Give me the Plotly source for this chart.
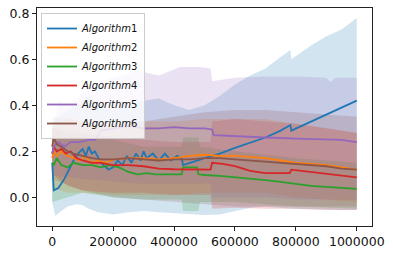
import plotly.graph_objects as go

# ---------------- data (x in thousands of steps) ----------------
names = ["Algorithm1", "Algorithm2", "Algorithm3", "Algorithm4", "Algorithm5", "Algorithm6"]
colors = ["#1f77b4", "#ff7f0e", "#2ca02c", "#d62728", "#9467bd", "#8c564b"]
fills = ["rgba(31,119,180,0.2)", "rgba(255,127,14,0.2)", "rgba(44,160,44,0.2)",
         "rgba(214,39,40,0.2)", "rgba(148,103,189,0.2)", "rgba(140,86,75,0.2)"]

# Algorithm1
a1_x = [0, 5, 20, 40, 55, 70, 85, 100, 110, 120, 130, 140, 160, 185, 200, 215, 230, 245, 260, 275,
        290, 300, 310, 330, 350, 370, 390, 410, 425, 430, 500, 550, 600, 650, 700, 750, 782, 785,
        850, 900, 950, 1000]
a1_y = [0.15, 0.03, 0.04, 0.08, 0.12, 0.16, 0.19, 0.21, 0.18, 0.22, 0.19, 0.20, 0.15, 0.12, 0.13,
        0.16, 0.14, 0.18, 0.15, 0.19, 0.16, 0.20, 0.17, 0.19, 0.16, 0.19, 0.16, 0.18, 0.17, 0.14,
        0.17, 0.19, 0.215, 0.237, 0.26, 0.29, 0.314, 0.29, 0.33, 0.36, 0.39, 0.42]
a1_bx = [0, 10, 50, 80, 100, 120, 150, 200, 250, 300, 350, 400, 450, 500, 550, 600, 650, 700, 750,
         782, 785, 850, 900, 950, 1000]
a1_up = [0.30, 0.34, 0.38, 0.40, 0.42, 0.44, 0.40, 0.38, 0.40, 0.42, 0.43, 0.40, 0.38, 0.40, 0.44,
         0.49, 0.53, 0.56, 0.61, 0.64, 0.60, 0.66, 0.70, 0.73, 0.78]
a1_lo = [-0.02, -0.08, -0.04, -0.03, -0.035, -0.05, -0.065, -0.075, -0.065, -0.06, -0.065, -0.07,
         -0.075, -0.077, -0.075, -0.06, -0.045, -0.04, -0.045, -0.05, -0.05, -0.052, -0.055, -0.055,
         -0.055]

# Algorithm2
a2_x = [0, 5, 15, 30, 50, 70, 90, 110, 130, 150, 175, 200, 250, 300, 350, 400, 450, 500, 550, 600,
        650, 700, 750, 800, 850, 900, 950, 1000]
a2_y = [0.17, 0.20, 0.18, 0.20, 0.18, 0.17, 0.16, 0.175, 0.15, 0.16, 0.15, 0.165, 0.17, 0.17, 0.165,
        0.17, 0.18, 0.185, 0.18, 0.18, 0.175, 0.17, 0.16, 0.15, 0.145, 0.14, 0.13, 0.12]
a2_bx = [0, 50, 100, 200, 300, 400, 500, 600, 700, 800, 900, 1000]
a2_up = [0.30, 0.35, 0.33, 0.32, 0.33, 0.33, 0.34, 0.34, 0.34, 0.32, 0.30, 0.28]
a2_lo = [0.04, 0.02, 0.02, 0.01, 0.01, 0.01, 0.02, 0.02, 0.02, 0.00, -0.01, -0.02]

# Algorithm3
a3_x = [0, 5, 15, 30, 50, 70, 100, 130, 160, 190, 220, 250, 280, 310, 340, 370, 400, 425, 430, 475,
        480, 500, 550, 600, 650, 700, 750, 800, 850, 900, 950, 1000]
a3_y = [0.15, 0.14, 0.17, 0.14, 0.13, 0.15, 0.14, 0.14, 0.13, 0.14, 0.13, 0.11, 0.10, 0.105, 0.10,
        0.10, 0.10, 0.10, 0.13, 0.13, 0.10, 0.097, 0.093, 0.088, 0.08, 0.075, 0.067, 0.058, 0.05,
        0.045, 0.04, 0.037]
a3_bx = [0, 50, 100, 200, 300, 425, 430, 480, 485, 600, 800, 1000]
a3_up = [0.30, 0.27, 0.26, 0.25, 0.22, 0.22, 0.26, 0.26, 0.22, 0.20, 0.17, 0.15]
a3_lo = [-0.02, 0.00, 0.02, 0.00, -0.01, -0.01, -0.06, -0.06, -0.02, -0.02, -0.04, -0.05]

# Algorithm4
a4_x = [0, 5, 15, 30, 45, 60, 80, 100, 130, 160, 200, 250, 300, 350, 400, 450, 500, 520, 525, 560,
        600, 650, 700, 750, 780, 785, 850, 900, 950, 1000]
a4_y = [0.19, 0.22, 0.20, 0.21, 0.19, 0.20, 0.17, 0.16, 0.15, 0.15, 0.14, 0.14, 0.135, 0.125, 0.122,
        0.12, 0.12, 0.12, 0.15, 0.145, 0.135, 0.115, 0.105, 0.105, 0.105, 0.12, 0.11, 0.10, 0.092,
        0.087]
a4_bx = [0, 50, 100, 200, 300, 400, 520, 525, 600, 700, 800, 900, 1000]
a4_up = [0.30, 0.29, 0.28, 0.26, 0.25, 0.24, 0.24, 0.33, 0.34, 0.33, 0.32, 0.30, 0.28]
a4_lo = [0.10, 0.05, 0.03, 0.02, 0.02, 0.01, 0.01, -0.05, -0.045, -0.05, -0.05, -0.055, -0.055]

# Algorithm5
a5_x = [0, 5, 20, 40, 60, 90, 120, 140, 160, 200, 250, 300, 350, 400, 450, 500, 525, 530, 600, 700,
        800, 900, 950, 1000]
a5_y = [0.19, 0.22, 0.24, 0.22, 0.24, 0.24, 0.25, 0.25, 0.29, 0.30, 0.31, 0.30, 0.30, 0.305, 0.30,
        0.30, 0.295, 0.27, 0.265, 0.26, 0.255, 0.25, 0.25, 0.24]
a5_bx = [0, 20, 50, 100, 150, 200, 280, 350, 420, 485, 520, 525, 600, 700, 800, 900, 913, 930, 1000]
a5_up = [0.30, 0.42, 0.40, 0.45, 0.50, 0.52, 0.55, 0.53, 0.566, 0.566, 0.56, 0.505, 0.52, 0.525,
         0.525, 0.52, 0.50, 0.52, 0.52]
a5_lo = [0.10, 0.09, 0.09, 0.08, 0.075, 0.07, 0.06, 0.06, 0.06, 0.06, 0.06, 0.00, 0.00, 0.00,
         -0.01, -0.01, -0.01, -0.01, -0.01]

# Algorithm6
a6_x = [0, 5, 15, 30, 50, 70, 100, 130, 160, 200, 250, 300, 350, 400, 450, 500, 550, 600, 650, 700,
        750, 800, 850, 900, 950, 1000]
a6_y = [0.22, 0.26, 0.23, 0.22, 0.20, 0.19, 0.18, 0.17, 0.165, 0.165, 0.17, 0.165, 0.16, 0.165,
        0.165, 0.17, 0.17, 0.165, 0.16, 0.155, 0.15, 0.145, 0.14, 0.135, 0.125, 0.12]
a6_bx = [0, 100, 200, 300, 400, 500, 600, 700, 800, 900, 1000]
a6_up = [0.35, 0.33, 0.32, 0.33, 0.35, 0.37, 0.38, 0.38, 0.37, 0.36, 0.35]
a6_lo = [0.08, 0.03, 0.00, -0.01, -0.02, -0.03, -0.04, -0.04, -0.04, -0.04, -0.04]

x_ticks = [0, 200000, 400000, 600000, 800000, 1000000]
x_ticklabels = ["0", "200000", "400000", "600000", "800000", "1000000"]
y_ticks = [0.0, 0.2, 0.4, 0.6, 0.8]
y_ticklabels = ["0.0", "0.2", "0.4", "0.6", "0.8"]

series = [
    (a1_x, a1_y, a1_bx, a1_up, a1_lo),
    (a2_x, a2_y, a2_bx, a2_up, a2_lo),
    (a3_x, a3_y, a3_bx, a3_up, a3_lo),
    (a4_x, a4_y, a4_bx, a4_up, a4_lo),
    (a5_x, a5_y, a5_bx, a5_up, a5_lo),
    (a6_x, a6_y, a6_bx, a6_up, a6_lo),
]

fig = go.Figure()
# shaded bands first
for i, (mx, my, bx, up, lo) in enumerate(series):
    bxx = [v * 1000 for v in bx]
    fig.add_trace(go.Scatter(x=bxx, y=lo, mode="lines", line=dict(width=0),
                             showlegend=False, hoverinfo="skip"))
    fig.add_trace(go.Scatter(x=bxx, y=up, mode="lines", line=dict(width=0),
                             fill="tonexty", fillcolor=fills[i],
                             showlegend=False, hoverinfo="skip"))
# mean lines on top
for i, (mx, my, bx, up, lo) in enumerate(series):
    mxx = [v * 1000 for v in mx]
    fig.add_trace(go.Scatter(x=mxx, y=my, mode="lines",
                             line=dict(color=colors[i], width=1.8),
                             name="<i>Algorithm</i>" + names[i][-1]))

axis_common = dict(showline=True, linecolor="#222222", linewidth=1, mirror=True,
                   ticks="outside", ticklen=4, tickcolor="#222222", tickwidth=1,
                   showgrid=False, zeroline=False, automargin=False,
                   tickfont=dict(family="DejaVu Sans", size=12.5, color="#111111"))

fig.update_layout(
    width=393, height=254,
    margin=dict(l=37, r=21, t=8, b=28, autoexpand=False),
    paper_bgcolor="white", plot_bgcolor="white",
    font=dict(family="DejaVu Sans", color="#111111"),
    xaxis=dict(range=[-50000, 1050000], tickvals=x_ticks, ticktext=x_ticklabels, **axis_common),
    yaxis=dict(range=[-0.1248, 0.823], tickvals=y_ticks, ticktext=y_ticklabels, **axis_common),
    legend=dict(x=0.012, y=0.977, xanchor="left", yanchor="top", traceorder="normal",
                bgcolor="rgba(255,255,255,0.8)", bordercolor="#cccccc", borderwidth=1,
                font=dict(family="DejaVu Sans", size=10, color="#111111"),
                itemwidth=30, tracegroupgap=0),
    showlegend=True,
)

fig.write_html("out.html", config={"displayModeBar": False},
               post_script="document.body.style.margin='0';")
